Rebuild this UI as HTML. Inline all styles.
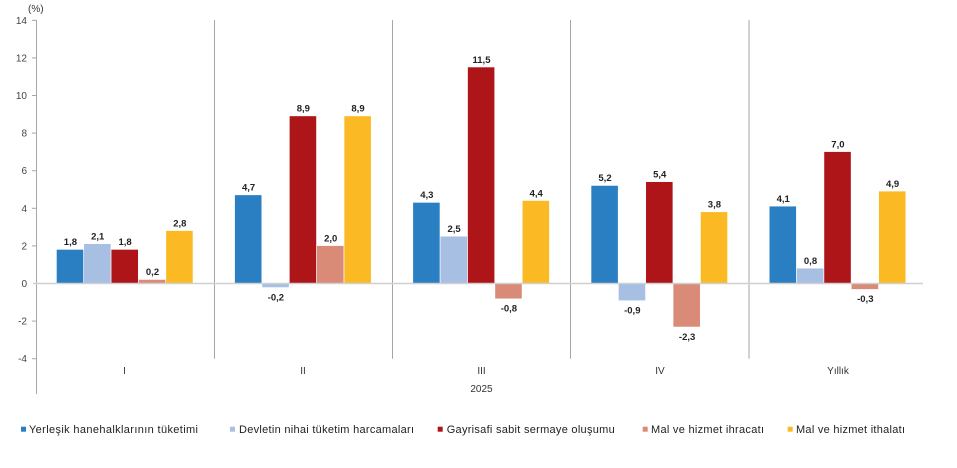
<!DOCTYPE html>
<html>
<head>
<meta charset="utf-8">
<style>
  html, body { margin:0; padding:0; background:#ffffff; }
  svg { display:block; }
  text { font-family: "Liberation Sans", Arial, sans-serif; }
</style>
</head>
<body>
<svg width="957" height="468" viewBox="0 0 957 468" xmlns="http://www.w3.org/2000/svg">
  <rect x="0" y="0" width="957" height="468" fill="#ffffff"/>

  <!-- (%) -->
  <text x="28" y="12" font-size="10" fill="#333">(%)</text>

  <!-- y tick labels -->
  <g font-size="10" fill="#444" text-anchor="end">
    <text x="27" y="23.8">14</text>
    <text x="27" y="61.4">12</text>
    <text x="27" y="99">10</text>
    <text x="27" y="136.6">8</text>
    <text x="27" y="174.2">6</text>
    <text x="27" y="211.8">4</text>
    <text x="27" y="249.4">2</text>
    <text x="27" y="287">0</text>
    <text x="27" y="324.6">-2</text>
    <text x="27" y="362.2">-4</text>
  </g>
  <!-- tick marks -->
  <g stroke="#a6a6a6" stroke-width="1">
    <line x1="32" y1="20.3" x2="36" y2="20.3"/>
    <line x1="32" y1="57.9" x2="36" y2="57.9"/>
    <line x1="32" y1="95.5" x2="36" y2="95.5"/>
    <line x1="32" y1="133.1" x2="36" y2="133.1"/>
    <line x1="32" y1="170.7" x2="36" y2="170.7"/>
    <line x1="32" y1="208.3" x2="36" y2="208.3"/>
    <line x1="32" y1="245.9" x2="36" y2="245.9"/>
    <line x1="32" y1="321.1" x2="36" y2="321.1"/>
    <line x1="32" y1="358.7" x2="36" y2="358.7"/>
  </g>

  <!-- axis and separators -->
  <line x1="36.5" y1="20" x2="36.5" y2="394" stroke="#a6a6a6" stroke-width="1"/>
  <g stroke="#a6a6a6" stroke-width="1">
    <line x1="214.5" y1="20" x2="214.5" y2="358.7"/>
    <line x1="392.5" y1="20" x2="392.5" y2="358.7"/>
    <line x1="570.5" y1="20" x2="570.5" y2="358.7"/>
    <line x1="749" y1="20" x2="749" y2="358.7"/>
  </g>

  <!-- bars -->
  <g>
    <!-- I -->
    <rect x="56.7" y="249.66" width="26.6" height="33.84" fill="#2a7fc3"/>
    <rect x="84.06" y="244.02" width="26.6" height="39.48" fill="#a6bfe3"/>
    <rect x="111.42" y="249.66" width="26.6" height="33.84" fill="#ae1519"/>
    <rect x="138.78" y="279.74" width="26.6" height="3.76" fill="#d98b78"/>
    <rect x="166.14" y="230.86" width="26.6" height="52.64" fill="#fbba23"/>
    <!-- II -->
    <rect x="234.9" y="195.14" width="26.6" height="88.36" fill="#2a7fc3"/>
    <rect x="262.26" y="283.5" width="26.6" height="3.76" fill="#a6bfe3"/>
    <rect x="289.62" y="116.18" width="26.6" height="167.32" fill="#ae1519"/>
    <rect x="316.98" y="245.9" width="26.6" height="37.6" fill="#d98b78"/>
    <rect x="344.34" y="116.18" width="26.6" height="167.32" fill="#fbba23"/>
    <!-- III -->
    <rect x="413.1" y="202.66" width="26.6" height="80.84" fill="#2a7fc3"/>
    <rect x="440.46" y="236.5" width="26.6" height="47" fill="#a6bfe3"/>
    <rect x="467.82" y="67.3" width="26.6" height="216.2" fill="#ae1519"/>
    <rect x="495.18" y="283.5" width="26.6" height="15.04" fill="#d98b78"/>
    <rect x="522.54" y="200.78" width="26.6" height="82.72" fill="#fbba23"/>
    <!-- IV -->
    <rect x="591.3" y="185.74" width="26.6" height="97.76" fill="#2a7fc3"/>
    <rect x="618.66" y="283.5" width="26.6" height="16.92" fill="#a6bfe3"/>
    <rect x="646.02" y="181.98" width="26.6" height="101.52" fill="#ae1519"/>
    <rect x="673.38" y="283.5" width="26.6" height="43.24" fill="#d98b78"/>
    <rect x="700.74" y="212.06" width="26.6" height="71.44" fill="#fbba23"/>
    <!-- Yıllık -->
    <rect x="769.5" y="206.42" width="26.6" height="77.08" fill="#2a7fc3"/>
    <rect x="796.86" y="268.46" width="26.6" height="15.04" fill="#a6bfe3"/>
    <rect x="824.22" y="151.9" width="26.6" height="131.6" fill="#ae1519"/>
    <rect x="851.58" y="283.5" width="26.6" height="5.64" fill="#d98b78"/>
    <rect x="878.94" y="191.38" width="26.6" height="92.12" fill="#fbba23"/>
  </g>

  <!-- zero line -->
  <line x1="33" y1="283.5" x2="923" y2="283.5" stroke="#d0d0d0" stroke-width="1.5"/>

  <!-- value labels -->
  <g font-size="9.5" font-weight="bold" fill="#222" text-anchor="middle">
    <text x="70.4" y="245.2">1,8</text>
    <text x="97.7" y="239.5">2,1</text>
    <text x="125.1" y="245.2">1,8</text>
    <text x="152.5" y="275.2">0,2</text>
    <text x="179.8" y="226.4">2,8</text>

    <text x="248.6" y="190.6">4,7</text>
    <text x="275.9" y="300.3">-0,2</text>
    <text x="303.3" y="111.7">8,9</text>
    <text x="330.7" y="241.4">2,0</text>
    <text x="358" y="111.7">8,9</text>

    <text x="426.8" y="198.2">4,3</text>
    <text x="454.1" y="232">2,5</text>
    <text x="481.5" y="62.8">11,5</text>
    <text x="508.9" y="311.6">-0,8</text>
    <text x="536.2" y="196.3">4,4</text>

    <text x="605" y="181.2">5,2</text>
    <text x="632.3" y="313.5">-0,9</text>
    <text x="659.7" y="177.5">5,4</text>
    <text x="687.1" y="339.8">-2,3</text>
    <text x="714.4" y="207.6">3,8</text>

    <text x="783.2" y="201.9">4,1</text>
    <text x="810.5" y="264">0,8</text>
    <text x="837.9" y="147.4">7,0</text>
    <text x="865.3" y="302.2">-0,3</text>
    <text x="892.6" y="186.9">4,9</text>
  </g>

  <!-- category labels -->
  <g font-size="10" fill="#333" text-anchor="middle">
    <text x="124.5" y="374">I</text>
    <text x="303" y="374">II</text>
    <text x="481.5" y="374">III</text>
    <text x="660" y="374">IV</text>
    <text x="838" y="374">Yıllık</text>
    <text x="481.5" y="392">2025</text>
  </g>

  <!-- legend -->
  <g>
    <rect x="21" y="426.7" width="5" height="5" fill="#2a7fc3"/>
    <rect x="230" y="426.7" width="5" height="5" fill="#a6bfe3"/>
    <rect x="437.7" y="426.7" width="5" height="5" fill="#ae1519"/>
    <rect x="642.7" y="426.7" width="5" height="5" fill="#d98b78"/>
    <rect x="787.7" y="426.7" width="5" height="5" fill="#fbba23"/>
  </g>
  <g font-size="11" fill="#222">
    <text x="29" y="433" textLength="169" lengthAdjust="spacing">Yerleşik hanehalklarının tüketimi</text>
    <text x="239" y="433" textLength="175" lengthAdjust="spacing">Devletin nihai tüketim harcamaları</text>
    <text x="446.7" y="433" textLength="168" lengthAdjust="spacing">Gayrisafi sabit sermaye oluşumu</text>
    <text x="651" y="433" textLength="113" lengthAdjust="spacing">Mal ve hizmet ihracatı</text>
    <text x="796" y="433" textLength="109" lengthAdjust="spacing">Mal ve hizmet ithalatı</text>
  </g>
</svg>
</body>
</html>
